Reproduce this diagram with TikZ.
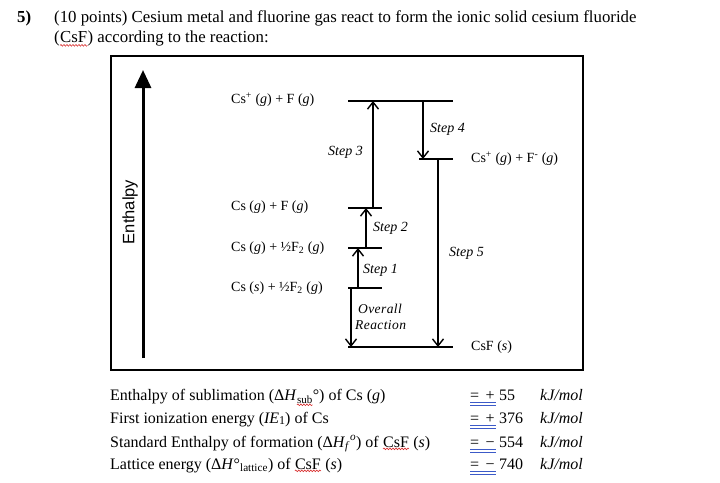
\documentclass[tikz,border=0pt]{standalone}
\usepackage{fontspec}
\setmainfont{Liberation Serif}
\newfontfamily\sansf{Liberation Sans}
\usetikzlibrary{arrows.meta,decorations.pathmorphing}
\definecolor{spellred}{RGB}{215,40,40}
\definecolor{gramblue}{RGB}{60,90,200}
\begin{document}
\begin{tikzpicture}[x=1pt,y=-1pt,
  lvl/.style={line width=2pt},
  steparr/.style={line width=1.5pt,-{Straight Barb[length=7pt,width=11pt,line width=1.4pt]}},
  lbl/.style={font=\fontsize{14}{16}\selectfont,anchor=west,inner sep=0pt},
  steplbl/.style={font=\fontsize{14}{16}\selectfont\itshape,anchor=west,inner sep=0pt},
  head/.style={font=\fontsize{16.8}{20}\selectfont,anchor=base west,inner sep=0pt},
  row/.style={font=\fontsize{16}{18}\selectfont,anchor=base west,inner sep=0pt},
  subrow/.style={font=\fontsize{11}{12}\selectfont,anchor=base west,inner sep=0pt},
  wavy/.style={spellred,line width=0.6pt,decorate,decoration={snake,amplitude=0.8pt,segment length=3pt}},
  dbl/.style={gramblue,line width=0.8pt}]
\useasboundingbox (0,0) rectangle (720,482);
% header
\node[head,font=\fontsize{16.8}{20}\selectfont\bfseries] (num) at (17,22) {5)};
\node[head] (h1) at (54,22) {(10 points) Cesium metal and fluorine gas react to form the ionic solid cesium fluoride};
\node[head] (h2a) at (54,42) {(};
\node[head] (h2b) at (h2a.base east) {CsF};
\node[head] (h2c) at (h2b.base east) {) according to the reaction:};
\draw[wavy] ([yshift=-3pt]h2b.south west) -- ([yshift=-3pt]h2b.south east);
% frame
\draw[line width=2pt] (111,56) rectangle (583,370);
% enthalpy axis
\coordinate (axb) at (143,358);
\coordinate (axt) at (143,70);
\draw[line width=3pt,-{Triangle[length=18pt,width=16pt]}] (axb) -- (axt);
\node[font=\fontsize{16.5}{18}\selectfont\sansf,rotate=90,inner sep=0pt] (enth) at (130,212) {Enthalpy};
% level labels
\node[lbl] (l1) at (231,100) {Cs\textsuperscript{+} (\textit{g}) + F (\textit{g})};
\node[lbl] (l2) at (471,159) {Cs\textsuperscript{+} (\textit{g}) + F\textsuperscript{-} (\textit{g})};
\node[lbl] (l3) at (231,207) {Cs (\textit{g}) + F (\textit{g})};
\node[lbl] (l4) at (231,248) {Cs (\textit{g}) + ½F\textsubscript{2} (\textit{g})};
\node[lbl] (l5) at (231,288) {Cs (\textit{s}) + ½F\textsubscript{2} (\textit{g})};
\node[lbl] (l6) at (471,347) {CsF (\textit{s})};
% level lines
\coordinate (A1) at (348,101); \coordinate (A2) at (453,101);
\coordinate (B1) at (419,159); \coordinate (B2) at (453,159);
\coordinate (C1) at (348,208); \coordinate (C2) at (382,208);
\coordinate (D1) at (348,248); \coordinate (D2) at (382,248);
\coordinate (E1) at (348,288); \coordinate (E2) at (382,288);
\coordinate (F1) at (348,347); \coordinate (F2) at (453,347);
\foreach \a/\b in {A1/A2,B1/B2,C1/C2,D1/D2,E1/E2,F1/F2} \draw[lvl] (\a) -- (\b);
% arrow anchors
\coordinate (s3a) at (373,208); \coordinate (s3b) at (373,101);
\coordinate (s4a) at (423,101); \coordinate (s4b) at (423,159);
\coordinate (s2a) at (366,248); \coordinate (s2b) at (366,208);
\coordinate (s1a) at (358,288); \coordinate (s1b) at (358,248);
\coordinate (ora) at (351,288); \coordinate (orb) at (351,347);
\coordinate (s5a) at (438,159); \coordinate (s5b) at (438,347);
\draw[steparr] (s3a) -- (s3b);
\draw[steparr] (s4a) -- (s4b);
\draw[steparr,line width=2.4pt] (s2a) -- (s2b);
\draw[steparr] (s1a) -- (s1b);
\draw[steparr] (ora) -- (orb);
\draw[steparr,line width=2pt] (s5a) -- (s5b);
% step labels
\node[steplbl] (t4) at (430,129) {Step 4};
\node[steplbl] (t3) at (328,152) {Step 3};
\node[steplbl] (t2) at (373,228) {Step 2};
\node[steplbl] (t1) at (363,270) {Step 1};
\node[steplbl] (t5) at (449,253) {Step 5};
\node[steplbl,align=left,font=\fontsize{13.5}{16}\selectfont\itshape\addfontfeatures{LetterSpace=3}] (tor) at (355,317) {\hspace{3pt}Overall\\Reaction};
% data rows
\node[row] (r1a) at (110,400) {Enthalpy of sublimation (Δ\textit{H}};
\node[subrow] (r1b) at ([yshift=-3pt]r1a.base east) {sub};
\node[row] (r1c) at ([yshift=3pt]r1b.base east) {°) of Cs (\textit{g})};
\draw[wavy] ([yshift=-1.5pt]r1b.south west) -- ([yshift=-1.5pt]r1b.south east);
\node[row] (r2) at (110,423) {First ionization energy (\textit{IE}\raisebox{-1pt}{\fontsize{12}{14}\selectfont 1}) of Cs};
\node[row] (r3a) at (110,447) {Standard Enthalpy of formation (Δ\textit{H}\textsubscript{\textit{f}}\textsuperscript{\textit{o}}) of};
\node[row] (r3b) at ([xshift=4pt]r3a.base east) {CsF};
\node[row] (r3c) at ([xshift=4pt]r3b.base east) {(\textit{s})};
\draw[wavy] ([yshift=-1.5pt]r3b.south west) -- ([yshift=-1.5pt]r3b.south east);
\node[row] (r4a) at (110,469) {Lattice energy (Δ\textit{H}°\textsubscript{lattice}) of};
\node[row] (r4b) at ([xshift=4pt]r4a.base east) {CsF};
\node[row] (r4c) at ([xshift=4pt]r4b.base east) {(\textit{s})};
\draw[wavy] ([yshift=-1.5pt]r4b.south west) -- ([yshift=-1.5pt]r4b.south east);
\foreach \y/\s/\v [count=\i] in {400/+/55,423/+/376,447/−/554,469/−/740}{
  \node[row] (eq\i) at (470,\y) {=};
  \node[row] (sg\i) at (485.5,\y) {\s};
  \node[row] (v\i) at (499,\y) {\v};
  \node[row,font=\fontsize{16}{18}\selectfont\itshape] (u\i) at (540,\y) {kJ/mol};
  \draw[dbl] ([yshift=-2.5pt]eq\i.base west) -- ([yshift=-2.5pt,xshift=1pt]sg\i.base east);
  \draw[dbl] ([yshift=-5pt]eq\i.base west) -- ([yshift=-5pt,xshift=1pt]sg\i.base east);
}
\end{tikzpicture}
\end{document}
